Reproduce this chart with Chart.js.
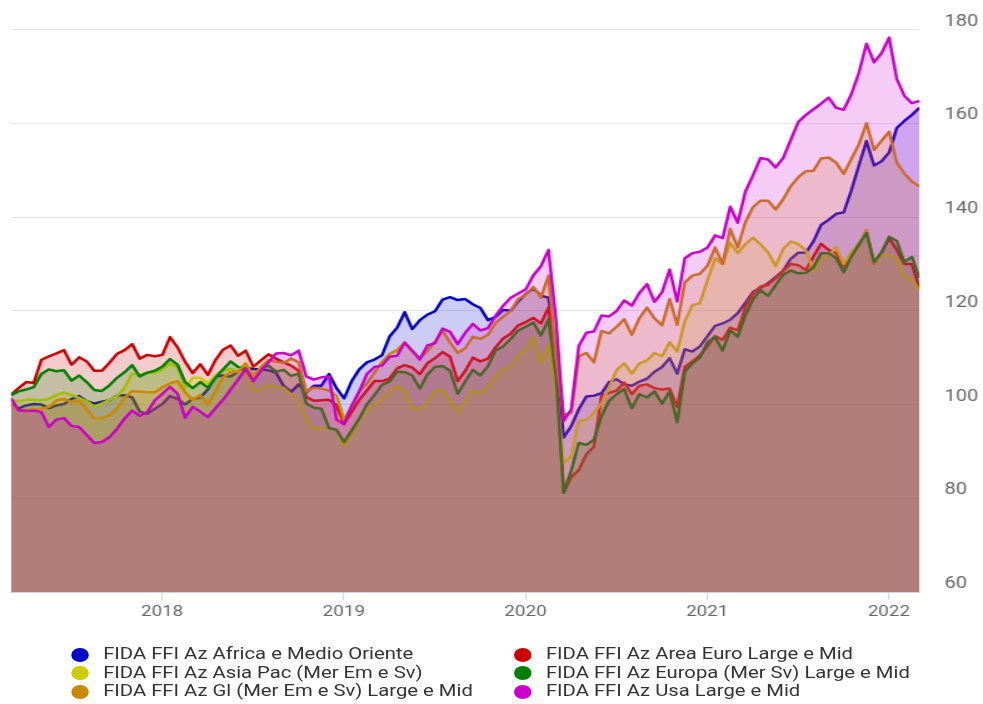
<!DOCTYPE html>
<html lang="it">
<head>
<meta charset="UTF-8">
<title>FIDA FFI - indici</title>
<script src="https://cdn.jsdelivr.net/npm/chart.js"></script>
<style>
  html, body { margin: 0; padding: 0; background: #fff; overflow: hidden; }
  /* il grafico originale e' disegnato stretto e poi allargato in orizzontale */
  #wrap { position: relative; width: 786px; height: 704px; transform: scaleX(1.2506); transform-origin: 0 0; }
  #c { position: absolute; left: 0; top: 0; }
  #legend { position: absolute; left: 0; top: 645px; width: 786px; font: 16.2px Roboto, sans-serif; color: #333; }
  .item { position: absolute; height: 18.5px; line-height: 18.5px; white-space: nowrap; }
  .dot { position: absolute; left: 0; top: 2.5px; width: 14px; height: 14px; border-radius: 50%; }
  .txt { position: absolute; left: 25.5px; top: 0; }
</style>
</head>
<body>
<div id="wrap">
  <canvas id="c" width="786" height="630"></canvas>
  <div id="legend"></div>
</div>

<script>
// date: un punto ogni mezzo mese, da marzo 2017 a marzo 2022
const startYear = 2017.168;
const dates = [];
for (let i = 0; i <= 120; i++) dates.push(startYear + i / 24);

const yearTicks = [2018, 2019, 2020, 2021, 2022];
const valueTicks = [60, 80, 100, 120, 140, 160, 180];

const names = [
  'FIDA FFI Az Africa e Medio Oriente',
  'FIDA FFI Az Area Euro Large e Mid',
  'FIDA FFI Az Asia Pac (Mer Em e Sv)',
  'FIDA FFI Az Europa (Mer Sv) Large e Mid',
  'FIDA FFI Az Gl (Mer Em e Sv) Large e Mid',
  'FIDA FFI Az Usa Large e Mid'
];
const colors = ['#0000cc', '#cc0000', '#cccc00', '#008000', '#cc8800', '#cc00cc'];
const fills = ['rgba(0,0,204,0.2)', 'rgba(204,0,0,0.2)', 'rgba(204,204,0,0.2)',
               'rgba(0,128,0,0.2)', 'rgba(204,136,0,0.2)', 'rgba(204,0,204,0.2)'];

const africa = [
  100.0, 99.2, 99.8, 100.1, 100.0, 99.2, 99.8, 100.1, 101.2, 101.8,
  100.7, 100.2, 100.6, 100.9, 101.9, 102.0, 101.5, 98.5, 98.0, 99.1,
  100.1, 101.8, 101.2, 100.0, 101.2, 101.5, 103.2, 106.0, 106.2, 106.0,
  107.0, 107.8, 107.6, 107.5, 107.3, 106.8, 104.0, 102.7, 104.3, 102.6,
  104.0, 104.0, 106.5, 103.5, 101.3, 105.0, 107.5, 109.0, 109.6, 110.5,
  114.5, 116.4, 119.7, 116.1, 118.0, 119.2, 119.9, 122.4, 122.9, 122.3,
  122.5, 121.4, 120.6, 118.0, 118.7, 120.2, 120.0, 122.0, 123.6, 124.8,
  123.2, 122.8, 110.5, 93.0, 95.4, 99.0, 101.7, 101.9, 102.4, 104.8,
  105.4, 104.3, 104.0, 104.9, 105.5, 107.0, 108.0, 109.9, 106.6, 111.8,
  111.3, 112.4, 114.6, 116.8, 117.3, 118.1, 119.5, 121.7, 124.0, 124.9,
  125.9, 127.2, 128.6, 131.1, 132.4, 132.4, 134.8, 138.3, 139.4, 140.7,
  141.0, 145.7, 151.0, 156.2, 151.0, 151.9, 153.8, 159.0, 160.5, 161.8,
  163.3
];
const areaEuro = [
  102.1, 103.5, 104.8, 104.6, 109.5, 110.3, 110.9, 111.6, 108.5, 110.1,
  109.2, 107.2, 107.2, 108.9, 110.8, 111.6, 112.9, 109.8, 110.6, 110.3,
  110.6, 114.4, 112.2, 109.1, 106.7, 108.6, 106.3, 109.5, 111.7, 112.6,
  110.4, 111.5, 108.1, 109.4, 110.7, 109.8, 109.0, 108.3, 107.2, 101.6,
  100.8, 100.9, 101.0, 99.9, 95.9, 98.4, 101.0, 103.0, 105.0, 105.0,
  105.5, 107.7, 108.4, 107.9, 106.5, 108.8, 109.9, 111.2, 110.2, 105.0,
  107.2, 110.0, 109.2, 109.8, 112.2, 114.1, 115.1, 116.9, 117.6, 118.5,
  117.3, 120.7, 109.0, 81.2, 84.5, 86.0, 89.4, 91.0, 101.8, 102.5,
  103.0, 104.7, 102.2, 104.0, 104.3, 103.5, 103.2, 103.4, 99.5, 108.0,
  109.2, 110.5, 112.4, 114.6, 113.8, 116.4, 115.8, 120.7, 123.6, 125.2,
  125.5, 126.9, 128.5, 130.0, 129.7, 128.7, 131.6, 134.3, 133.0, 132.3,
  129.3, 132.0, 134.0, 137.1, 130.1, 132.4, 135.5, 133.0, 130.0, 130.0,
  124.8
];
const asiaPac = [
  101.0, 100.7, 101.0, 101.0, 100.9, 101.2, 102.0, 102.6, 102.0, 101.4,
  100.7, 99.6, 100.2, 101.0, 101.8, 103.5, 106.6, 106.3, 106.8, 106.7,
  107.5, 108.7, 108.0, 103.5, 105.7, 105.7, 104.5, 106.3, 107.2, 107.6,
  107.0, 107.0, 103.0, 103.2, 104.2, 103.7, 103.6, 102.2, 101.0, 97.0,
  94.8, 95.0, 95.0, 94.5, 91.2, 93.4, 96.6, 98.8, 99.8, 101.1,
  102.9, 104.0, 103.0, 99.3, 98.9, 100.5, 102.8, 103.1, 101.0, 98.3,
  100.8, 103.1, 102.3, 103.8, 106.0, 107.5, 108.0, 110.5, 111.8, 114.4,
  108.8, 112.7, 104.0, 87.5, 89.0, 96.5, 96.7, 98.2, 100.3, 103.7,
  107.4, 108.8, 106.6, 108.8, 109.4, 111.0, 110.3, 113.3, 111.3, 117.8,
  121.2, 121.6, 126.5, 131.2, 130.0, 134.5, 132.3, 134.2, 135.6, 134.2,
  132.5, 129.5, 133.2, 134.8, 134.2, 132.9, 128.5, 130.9, 131.8, 133.6,
  130.0, 132.6, 134.3, 137.0, 130.3, 132.0, 131.8, 131.3, 127.2, 126.7,
  124.5
];
const europa = [
  102.0, 102.8, 103.2, 103.7, 106.5, 107.5, 107.1, 107.3, 105.1, 106.2,
  104.8, 103.1, 102.9, 104.1, 105.7, 106.9, 108.4, 106.0, 106.8, 107.2,
  108.1, 109.7, 108.5, 104.8, 103.5, 104.8, 103.6, 105.7, 107.5, 109.2,
  108.0, 107.8, 106.2, 107.6, 108.3, 107.0, 107.4, 106.1, 106.6, 100.2,
  99.3, 99.1, 95.0, 94.6, 92.0, 94.5, 97.0, 100.0, 102.0, 104.2,
  104.9, 107.0, 106.9, 106.2, 103.4, 106.4, 108.0, 108.2, 107.2, 102.3,
  104.9, 107.4, 106.2, 108.2, 111.5, 112.4, 114.0, 115.8, 116.6, 117.5,
  114.7, 118.2, 106.0, 81.2, 85.9, 91.8, 91.4, 92.5, 97.5, 100.8,
  102.2, 103.3, 99.2, 102.2, 101.5, 102.8, 100.2, 102.8, 96.2, 107.0,
  108.8, 110.0, 113.3, 114.4, 111.5, 115.8, 114.5, 119.0, 122.4, 124.4,
  123.2, 125.5, 127.7, 128.6, 128.0, 128.1, 129.3, 132.3, 132.3, 131.2,
  128.2, 131.5, 134.2, 136.6, 130.4, 132.5, 135.8, 134.9, 130.4, 131.5,
  127.0
];
const globale = [
  99.9, 98.7, 98.9, 99.0, 99.1, 99.5, 100.9, 101.2, 100.5, 100.8,
  99.0, 97.0, 97.1, 97.7, 99.1, 101.4, 102.9, 102.8, 102.6, 102.6,
  103.7, 104.5, 105.0, 102.6, 101.0, 102.0, 100.0, 102.8, 105.8, 106.9,
  107.0, 108.8, 106.0, 108.0, 109.5, 109.1, 108.9, 109.8, 109.0, 102.8,
  103.6, 103.4, 103.0, 101.9, 96.7, 99.7, 102.9, 104.5, 106.8, 109.1,
  110.8, 111.6, 113.3, 111.4, 109.9, 111.4, 113.4, 115.8, 113.2, 111.0,
  112.0, 114.5, 114.0, 114.9, 117.4, 118.7, 120.0, 122.5, 123.4, 125.1,
  122.8, 127.5, 110.0, 97.8, 98.3, 110.3, 111.0, 109.0, 115.7, 115.2,
  116.6, 118.2, 114.9, 118.4, 120.7, 118.4, 116.9, 122.5, 117.0, 126.0,
  127.5, 127.9, 129.6, 133.5, 130.0, 137.5, 133.5, 138.9, 142.1, 143.5,
  143.5, 141.6, 143.8, 146.6, 148.5, 149.8, 149.9, 152.5, 152.7, 151.6,
  149.2, 152.4, 155.5, 160.0, 154.3, 156.3, 158.2, 151.6, 149.3, 147.6,
  146.5
];
const usa = [
  101.3, 98.8, 98.6, 98.7, 98.4, 95.2, 96.8, 97.1, 95.4, 95.2,
  93.5, 91.8, 92.0, 93.0, 94.8, 97.0, 98.7, 97.6, 98.4, 100.9,
  102.3, 103.8, 102.3, 97.2, 99.5, 98.5, 97.3, 99.2, 101.0, 103.2,
  105.3, 107.6, 105.0, 107.2, 109.0, 110.9, 111.0, 110.5, 111.5, 106.0,
  105.3, 105.8, 106.0, 96.8, 95.8, 99.7, 102.8, 106.5, 108.0, 108.3,
  110.2, 110.4, 113.2, 111.5, 109.6, 112.6, 113.1, 116.2, 115.5, 112.9,
  115.3, 117.2, 115.8, 116.3, 118.9, 121.1, 122.8, 123.7, 124.6, 127.6,
  129.5, 133.0, 118.0, 96.5, 99.0, 112.5, 115.3, 115.6, 119.0, 118.8,
  120.0, 122.2, 121.1, 123.8, 125.7, 121.9, 124.0, 128.8, 122.0, 131.2,
  132.3, 132.6, 133.5, 136.1, 135.5, 142.2, 138.8, 145.4, 148.9, 152.6,
  152.3, 150.6, 152.6, 156.5, 160.3, 161.8, 163.0, 164.2, 165.5, 163.3,
  162.9, 166.2, 170.8, 177.0, 173.0, 175.0, 178.3, 169.5, 165.9, 164.3,
  164.8
];

const series = [africa, areaEuro, asiaPac, europa, globale, usa];

const datasets = series.map((vals, i) => ({
  label: names[i],
  data: vals.map((v, j) => ({ x: dates[j], y: v })),
  borderColor: colors[i],
  backgroundColor: fills[i],
  borderWidth: 2.5,
  borderJoinStyle: 'round',
  pointRadius: 0,
  tension: 0,
  fill: 'start',
  order: series.length - 1 - i   // il primo in basso, l'ultimo sopra
}));

new Chart(document.getElementById('c'), {
  type: 'line',
  data: { datasets: datasets },
  options: {
    responsive: false,
    devicePixelRatio: 1,
    animation: false,
    layout: { padding: { left: 8.8, top: 25, right: 0, bottom: 0 } },
    plugins: { legend: { display: false }, tooltip: { enabled: false } },
    scales: {
      x: {
        type: 'linear',
        min: dates[0],
        max: dates[dates.length - 1],
        afterBuildTicks: s => { s.ticks = yearTicks.map(v => ({ value: v })); },
        afterFit: s => { s.height = 38; },
        grid: { drawOnChartArea: false, drawTicks: true, tickLength: 8, color: '#ccd6eb' },
        border: { display: true, color: '#ccd6eb' },
        ticks: {
          autoSkip: false, maxRotation: 0, padding: 3,
          color: '#666', font: { family: 'Roboto', size: 15 },
          callback: v => String(v)
        }
      },
      y: {
        position: 'right',
        min: 60,
        max: 180,
        afterBuildTicks: s => { s.ticks = valueTicks.map(v => ({ value: v })); },
        afterFit: s => { s.width = 50.8; },
        grid: { color: '#e6e6e6', drawTicks: false },
        border: { display: false },
        ticks: {
          padding: 20, labelOffset: -8,
          color: '#666', font: { family: 'Roboto', size: 16 },
          callback: v => String(v)
        }
      }
    }
  }
});

// legenda su due colonne, come nell'originale
const legend = document.getElementById('legend');
names.forEach((n, i) => {
  const it = document.createElement('div');
  it.className = 'item';
  it.style.left = (i % 2 === 0 ? 57 : 411) + 'px';
  it.style.top = (Math.floor(i / 2) * 18.5) + 'px';
  it.innerHTML = '<span class="dot" style="background:' + colors[i] + '"></span><span class="txt"></span>';
  it.querySelector('.txt').textContent = n;
  legend.appendChild(it);
});
</script>
</body>
</html>
